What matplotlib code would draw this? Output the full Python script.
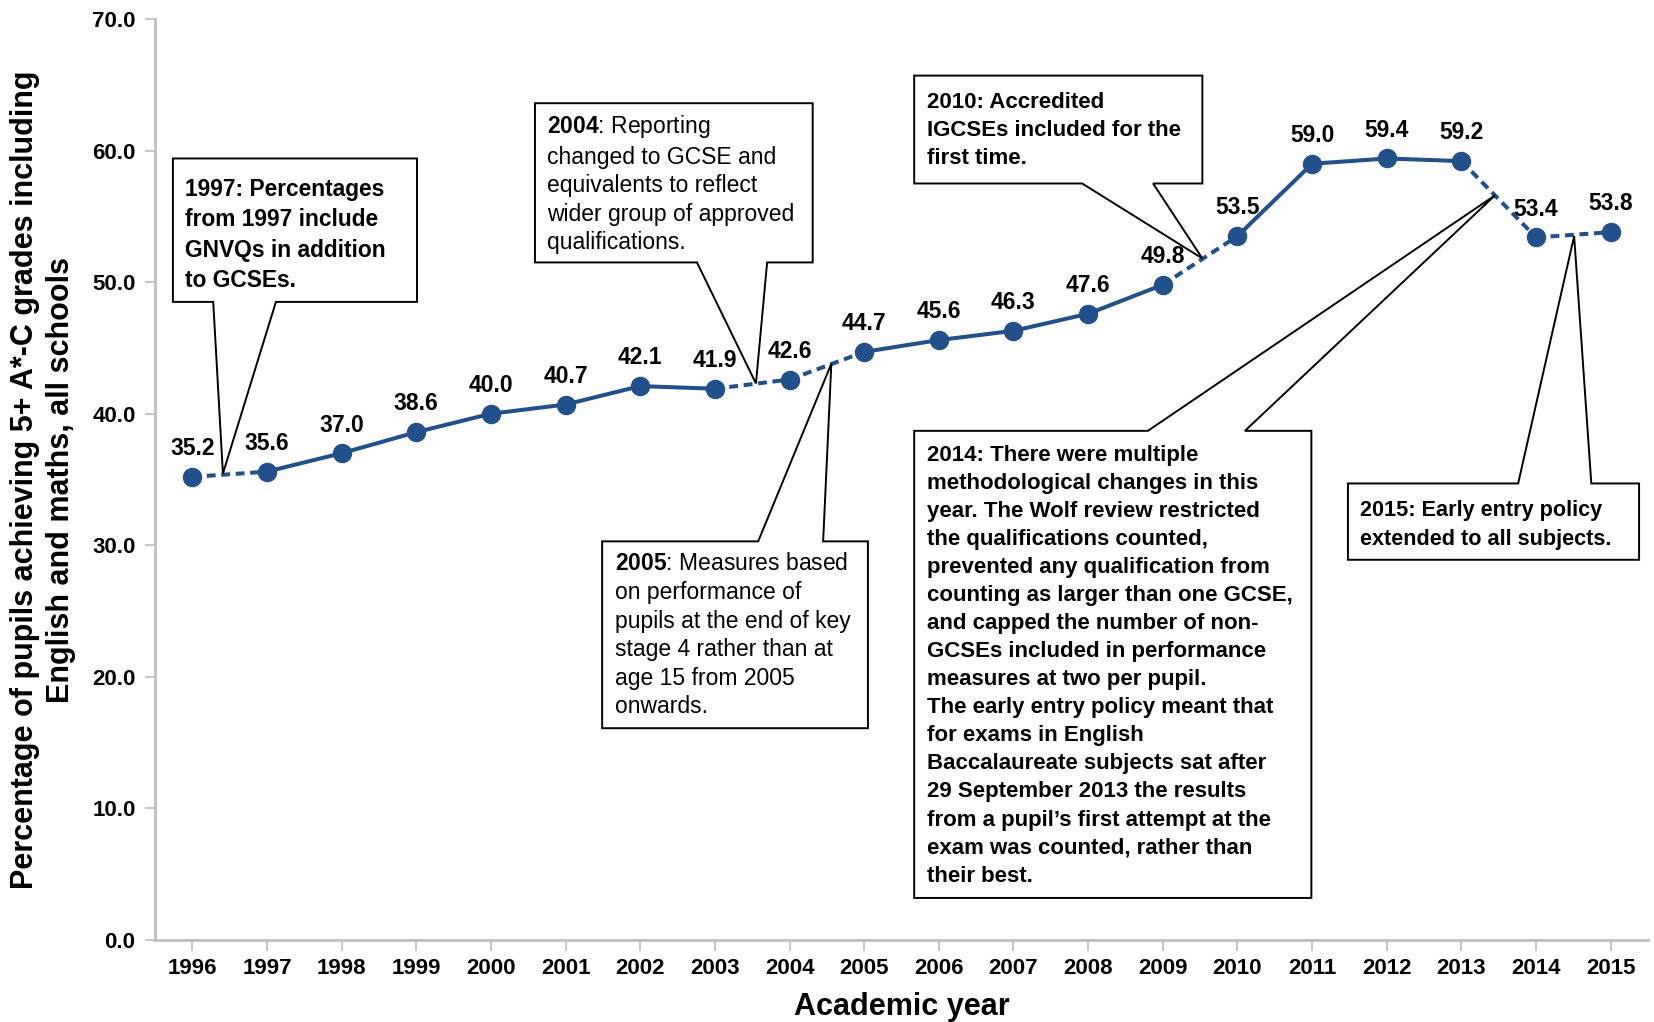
import matplotlib
matplotlib.use("Agg")
import matplotlib.pyplot as plt
from matplotlib.patches import Polygon

plt.rcParams['font.family'] = ['Liberation Sans', 'DejaVu Sans']
plt.rcParams['mathtext.fontset'] = 'custom'
plt.rcParams['mathtext.rm'] = 'Liberation Sans'
plt.rcParams['mathtext.bf'] = 'Liberation Sans:bold'

# data
years = ['1996', '1997', '1998', '1999', '2000', '2001', '2002', '2003', '2004', '2005',
         '2006', '2007', '2008', '2009', '2010', '2011', '2012', '2013', '2014', '2015']
values = [35.2, 35.6, 37.0, 38.6, 40.0, 40.7, 42.1, 41.9, 42.6, 44.7,
          45.6, 46.3, 47.6, 49.8, 53.5, 59.0, 59.4, 59.2, 53.4, 53.8]
# segments (starting index) drawn dashed where methodology changed
dashed_from = [0, 7, 8, 13, 17, 18]

line_col = '#22508a'
spine_col = '#bfbfbf'

fig = plt.figure(figsize=(16.54, 10.22), dpi=100)
ax = fig.add_axes([0.0937, 0.0802, 0.9027, 0.9012])

x = list(range(len(years)))
for i in range(len(x) - 1):
    ls = (0, (2.2, 1.4)) if i in dashed_from else '-'
    ax.plot([x[i], x[i + 1]], [values[i], values[i + 1]], color=line_col, lw=2.9,
            linestyle=ls, solid_capstyle='butt', dash_capstyle='butt', zorder=2)
ax.plot(x, values, 'o', color=line_col, markersize=13, zorder=3)

for i, v in enumerate(values):
    ax.annotate(f'{v:.1f}', (x[i], v), xytext=(0, 12), textcoords='offset points',
                ha='center', va='bottom', fontsize=16.5, fontweight='bold', zorder=5)


def callout(left, right, bottom, top, b1, b2, tip, text, bold, wedge_down=True,
            fs=None, dy=-11):
    if wedge_down:
        pts = [(left, top), (right, top), (right, bottom), (b2, bottom), tip,
               (b1, bottom), (left, bottom)]
    else:
        pts = [(left, bottom), (right, bottom), (right, top), (b2, top), tip,
               (b1, top), (left, top)]
    ax.add_patch(Polygon(pts, closed=True, facecolor='white', edgecolor='black',
                         lw=1.4, zorder=4))
    if fs is None:
        fs = 16 if bold else 16.5
    pitch = 27.4 if bold else 25.7
    ax.annotate(text, (left, top), xytext=(9, dy), textcoords='offset points',
                ha='left', va='top', fontsize=fs, linespacing=pitch / (fs * 1.188),
                fontweight='bold' if bold else 'normal', zorder=6)


callout(-0.26, 3.01, 48.5, 59.4, 0.28, 1.12, (0.41, 35.45),
        '1997: Percentages\nfrom 1997 include\nGNVQs in addition\nto GCSEs.', True,
        fs=16.4, dy=-14)
callout(4.59, 8.31, 51.5, 63.6, 6.76, 7.70, (7.55, 42.3),
        '$\\mathbf{2004}$: Reporting\nchanged to GCSE and\nequivalents to reflect\n'
        'wider group of approved\nqualifications.', False, dy=-7)
callout(5.49, 9.05, 16.1, 30.3, 7.58, 8.45, (8.56, 43.8),
        '$\\mathbf{2005}$: Measures based\non performance of\npupils at the end of key\n'
        'stage 4 rather than at\nage 15 from 2005\nonwards.', False, wedge_down=False,
        dy=-8)
callout(9.67, 13.53, 57.5, 65.7, 11.92, 12.87, (13.53, 51.8),
        '2010: Accredited\nIGCSEs included for the\nfirst time.', True, dy=-12)
callout(9.67, 14.99, 3.2, 38.7, 12.80, 14.10, (17.45, 56.6),
        '2014: There were multiple\nmethodological changes in this\n'
        'year. The Wolf review restricted\nthe qualifications counted,\n'
        'prevented any qualification from\ncounting as larger than one GCSE,\n'
        'and capped the number of non-\nGCSEs included in performance\n'
        'measures at two per pupil.\nThe early entry policy meant that\n'
        'for exams in English\nBaccalaureate subjects sat after\n'
        '29 September 2013 the results\nfrom a pupil\u2019s first attempt at the\n'
        'exam was counted, rather than\ntheir best.', True, wedge_down=False, dy=-10)
callout(15.48, 19.38, 28.9, 34.7, 17.76, 18.74, (18.51, 53.5),
        '2015: Early entry policy\nextended to all subjects.', True, wedge_down=False,
        fs=15.6, dy=-12)

ax.set_xlim(-0.5, len(years) - 0.5)
ax.set_ylim(0, 70)
ax.set_xticks(x)
ax.set_xticklabels(years)
ax.set_yticks(range(0, 71, 10))
ax.set_yticklabels([f'{t:.1f}' for t in range(0, 71, 10)])
for lab in ax.get_xticklabels() + ax.get_yticklabels():
    lab.set_fontweight('bold')
    lab.set_fontsize(16)
ax.tick_params(axis='x', length=8, width=1.3, color=spine_col, pad=5)
ax.tick_params(axis='y', length=7, width=1.3, color=spine_col, pad=7)

for s in ['top', 'right']:
    ax.spines[s].set_visible(False)
for s in ['left', 'bottom']:
    ax.spines[s].set_color(spine_col)
    ax.spines[s].set_linewidth(2)

ax.set_xlabel('Academic year', fontsize=22, fontweight='bold')
ax.xaxis.set_label_coords(0.5, -0.056)
ax.set_ylabel('Percentage of pupils achieving 5+ A*-C grades including\n'
              'English and maths, all schools', fontsize=22, fontweight='bold',
              linespacing=1.25)
ax.yaxis.set_label_coords(-0.053, 0.5)

fig.savefig('out.png', dpi=100)
